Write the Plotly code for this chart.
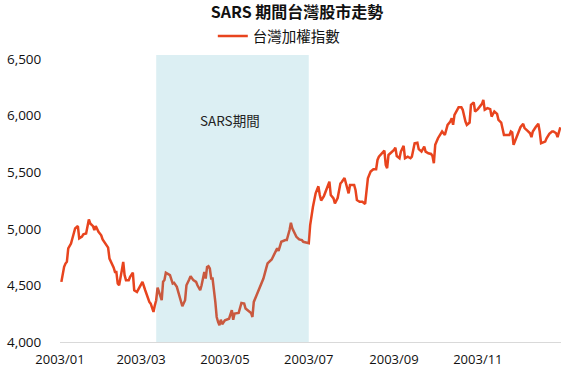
import plotly.graph_objects as go

# ---- data ----
dates = [
    # Jan
    "2003-01-02", "2003-01-03", "2003-01-04", "2003-01-05", "2003-01-06", "2003-01-07",
    "2003-01-08", "2003-01-09", "2003-01-11", "2003-01-12", "2003-01-14", "2003-01-15",
    "2003-01-17", "2003-01-18", "2003-01-20", "2003-01-22", "2003-01-23", "2003-01-25",
    "2003-01-26", "2003-01-27", "2003-01-29", "2003-01-31",
    # Feb
    "2003-02-01", "2003-02-03", "2003-02-05", "2003-02-06", "2003-02-08", "2003-02-09",
    "2003-02-10", "2003-02-11", "2003-02-12", "2003-02-13", "2003-02-15", "2003-02-16",
    "2003-02-17", "2003-02-18", "2003-02-20", "2003-02-21", "2003-02-23", "2003-02-24",
    "2003-02-26", "2003-02-27",
    # Mar
    "2003-03-01", "2003-03-02", "2003-03-04", "2003-03-06", "2003-03-07", "2003-03-08",
    "2003-03-10", "2003-03-11", "2003-03-12", "2003-03-13", "2003-03-15", "2003-03-16",
    "2003-03-17", "2003-03-18", "2003-03-19", "2003-03-21", "2003-03-22", "2003-03-24",
    "2003-03-25", "2003-03-27", "2003-03-29", "2003-03-30", "2003-03-31",
    # Apr
    "2003-04-02", "2003-04-03", "2003-04-05", "2003-04-06", "2003-04-08", "2003-04-10",
    "2003-04-11", "2003-04-13", "2003-04-14", "2003-04-16", "2003-04-17", "2003-04-18",
    "2003-04-19", "2003-04-20", "2003-04-21", "2003-04-22", "2003-04-24", "2003-04-25",
    "2003-04-26", "2003-04-27", "2003-04-28", "2003-04-29",
    # May
    "2003-05-01", "2003-05-02", "2003-05-04", "2003-05-06", "2003-05-07", "2003-05-08",
    "2003-05-10", "2003-05-11", "2003-05-13", "2003-05-15", "2003-05-16", "2003-05-18",
    "2003-05-20", "2003-05-21", "2003-05-22", "2003-05-24", "2003-05-26", "2003-05-29",
    "2003-05-31",
    # Jun
    "2003-06-01", "2003-06-04", "2003-06-06", "2003-06-08", "2003-06-09", "2003-06-11",
    "2003-06-14", "2003-06-15", "2003-06-17", "2003-06-18", "2003-06-19", "2003-06-21",
    "2003-06-22", "2003-06-24", "2003-06-26", "2003-06-27", "2003-06-29",
    # Jul
    "2003-07-01", "2003-07-02", "2003-07-03", "2003-07-04", "2003-07-06", "2003-07-08",
    "2003-07-09", "2003-07-10", "2003-07-12", "2003-07-14", "2003-07-16", "2003-07-17",
    "2003-07-19", "2003-07-20", "2003-07-22", "2003-07-24", "2003-07-25", "2003-07-27",
    "2003-07-29", "2003-07-30", "2003-07-31",
    # Aug
    "2003-08-03", "2003-08-04", "2003-08-05", "2003-08-07", "2003-08-09", "2003-08-11",
    "2003-08-12", "2003-08-13", "2003-08-15", "2003-08-17", "2003-08-19", "2003-08-20",
    "2003-08-21", "2003-08-23", "2003-08-25", "2003-08-26", "2003-08-27", "2003-08-28",
    "2003-08-30",
    # Sep
    "2003-09-01", "2003-09-02", "2003-09-03", "2003-09-05", "2003-09-06", "2003-09-08",
    "2003-09-09", "2003-09-11", "2003-09-13", "2003-09-14", "2003-09-16", "2003-09-18",
    "2003-09-19", "2003-09-21", "2003-09-23", "2003-09-24", "2003-09-26", "2003-09-28",
    "2003-09-29", "2003-09-30",
    # Oct
    "2003-10-01", "2003-10-03", "2003-10-05", "2003-10-06", "2003-10-08", "2003-10-09",
    "2003-10-10", "2003-10-12", "2003-10-13", "2003-10-14", "2003-10-15", "2003-10-17",
    "2003-10-18", "2003-10-20", "2003-10-21", "2003-10-23", "2003-10-24", "2003-10-26",
    "2003-10-27", "2003-10-29", "2003-10-30",
    # Nov
    "2003-11-01", "2003-11-02", "2003-11-04", "2003-11-05", "2003-11-06", "2003-11-08",
    "2003-11-10", "2003-11-11", "2003-11-12", "2003-11-13", "2003-11-15", "2003-11-16",
    "2003-11-18", "2003-11-19", "2003-11-20", "2003-11-22", "2003-11-24", "2003-11-25",
    "2003-11-26", "2003-11-27", "2003-11-29", "2003-11-30",
    # Dec
    "2003-12-02", "2003-12-04", "2003-12-05", "2003-12-07", "2003-12-09", "2003-12-10",
    "2003-12-11", "2003-12-13", "2003-12-15", "2003-12-16", "2003-12-17", "2003-12-20",
    "2003-12-21", "2003-12-23", "2003-12-25", "2003-12-26", "2003-12-28", "2003-12-29",
    "2003-12-30", "2003-12-31",
]

taiex = [
    # Jan
    4531, 4619, 4664, 4693, 4708, 4826, 4846, 4870, 4958, 5003, 5024, 4915,
    4930, 4952, 4958, 5082, 5047, 5024, 4988, 5024, 4973, 4943,
    # Feb
    4906, 4870, 4834, 4737, 4693, 4658, 4619, 4619, 4516, 4501, 4634, 4708,
    4590, 4546, 4546, 4575, 4613, 4457, 4442, 4463,
    # Mar
    4501, 4531, 4457, 4384, 4354, 4339, 4266, 4324, 4369, 4481, 4403, 4369,
    4533, 4548, 4612, 4600, 4590, 4516, 4522, 4487, 4399, 4339, 4316,
    # Apr
    4369, 4501, 4552, 4581, 4546, 4531, 4501, 4457, 4501, 4619, 4561, 4663,
    4670, 4649, 4561, 4561, 4354, 4221, 4177, 4148, 4197, 4157,
    # May
    4192, 4197, 4206, 4281, 4197, 4251, 4251, 4257, 4345, 4339, 4295, 4275,
    4257, 4221, 4354, 4413, 4472, 4561, 4650,
    # Jun
    4694, 4729, 4782, 4827, 4805, 4885, 4900, 4900, 4989, 5053, 5004, 4944,
    4929, 4906, 4900, 4885, 4876,
    # Jul
    4873, 5033, 5130, 5192, 5313, 5375, 5298, 5250, 5289, 5351, 5416, 5298,
    5269, 5225, 5272, 5400, 5413, 5449, 5343, 5313, 5387,
    # Aug
    5387, 5343, 5254, 5239, 5239, 5219, 5343, 5446, 5505, 5526, 5526, 5608,
    5637, 5667, 5690, 5564, 5535, 5652, 5673,
    # Sep
    5697, 5717, 5643, 5623, 5682, 5732, 5623, 5637, 5623, 5637, 5756, 5761,
    5703, 5682, 5726, 5682, 5667, 5661, 5643, 5579,
    # Oct
    5741, 5800, 5844, 5859, 5829, 5889, 5918, 5947, 5977, 5918, 6006, 6051,
    6074, 6074, 6051, 5947, 5918, 5938, 6095, 6115, 6036,
    # Nov
    6057, 6074, 6104, 6139, 6051, 6066, 6057, 5991, 6021, 6036, 6015, 5962,
    5938, 5873, 5829, 5829, 5829, 5859, 5850, 5741, 5809, 5844,
    # Dec
    5897, 5927, 5889, 5867, 5844, 5809, 5859, 5897, 5927, 5859, 5756, 5770,
    5800, 5838, 5859, 5859, 5844, 5809, 5867, 5896,
]

series_name = "台灣加權指數"
chart_title = "SARS 期間台灣股市走勢"

x_tick_dates = ["2003-01-01", "2003-03-01", "2003-05-01", "2003-07-01", "2003-09-01", "2003-11-01"]
x_tick_labels = ["2003/01", "2003/03", "2003/05", "2003/07", "2003/09", "2003/11"]
y_tick_values = [4000, 4500, 5000, 5500, 6000, 6500]

sars_start = "2003-03-12"
sars_end = "2003-07-01"
sars_label = "SARS期間"

assert len(dates) == len(taiex)

CJK = "Noto Sans CJK TC"
LATIN = "Open Sans, Noto Sans CJK TC"

fig = go.Figure()
fig.add_trace(go.Scatter(
    x=dates, y=taiex, mode="lines", name=series_name,
    line=dict(color="rgb(232,68,30)", width=2.5),
))

fig.add_shape(
    type="rect", xref="x", yref="paper",
    x0=sars_start, x1=sars_end, y0=0, y1=1,
    fillcolor="rgba(80,175,195,0.2)", line_width=0, layer="above",
)

fig.add_annotation(
    x="2003-05-05", y=5962, text=sars_label, showarrow=False,
    font=dict(family=CJK, size=13.5, color="#222222"),
)

fig.update_layout(
    width=562, height=368,
    margin=dict(l=60, r=1, t=55, b=26),
    paper_bgcolor="white", plot_bgcolor="white",
    title=dict(
        text="<b>" + chart_title + "</b>",
        x=297 / 562, xanchor="center", xref="container",
        y=1 - 12 / 368, yanchor="middle", yref="container",
        font=dict(family=CJK, size=16, color="#111111"),
    ),
    showlegend=True,
    legend=dict(
        orientation="h", x=0.305, xanchor="left",
        y=1.066, yanchor="middle",
        font=dict(family=CJK, size=14.5, color="#111111"),
        bgcolor="rgba(0,0,0,0)",
    ),
    xaxis=dict(
        type="date",
        range=["2003-01-01", "2003-12-31 12:00"],
        tickvals=x_tick_dates, ticktext=x_tick_labels,
        showgrid=False, zeroline=False,
        showline=True, linecolor="#D9D9D9", linewidth=1,
        ticks="outside", ticklen=5, tickcolor="rgba(0,0,0,0)",
        tickfont=dict(family=LATIN, size=13, color="#111111"),
    ),
    yaxis=dict(
        range=[4000, 6535],
        tickvals=y_tick_values, tickformat=",",
        showgrid=False, zeroline=False, showline=False,
        ticks="outside", ticklen=15, tickcolor="rgba(0,0,0,0)",
        tickfont=dict(family=LATIN, size=13.5, color="#111111"),
    ),
)

fig.write_html("out.html")
